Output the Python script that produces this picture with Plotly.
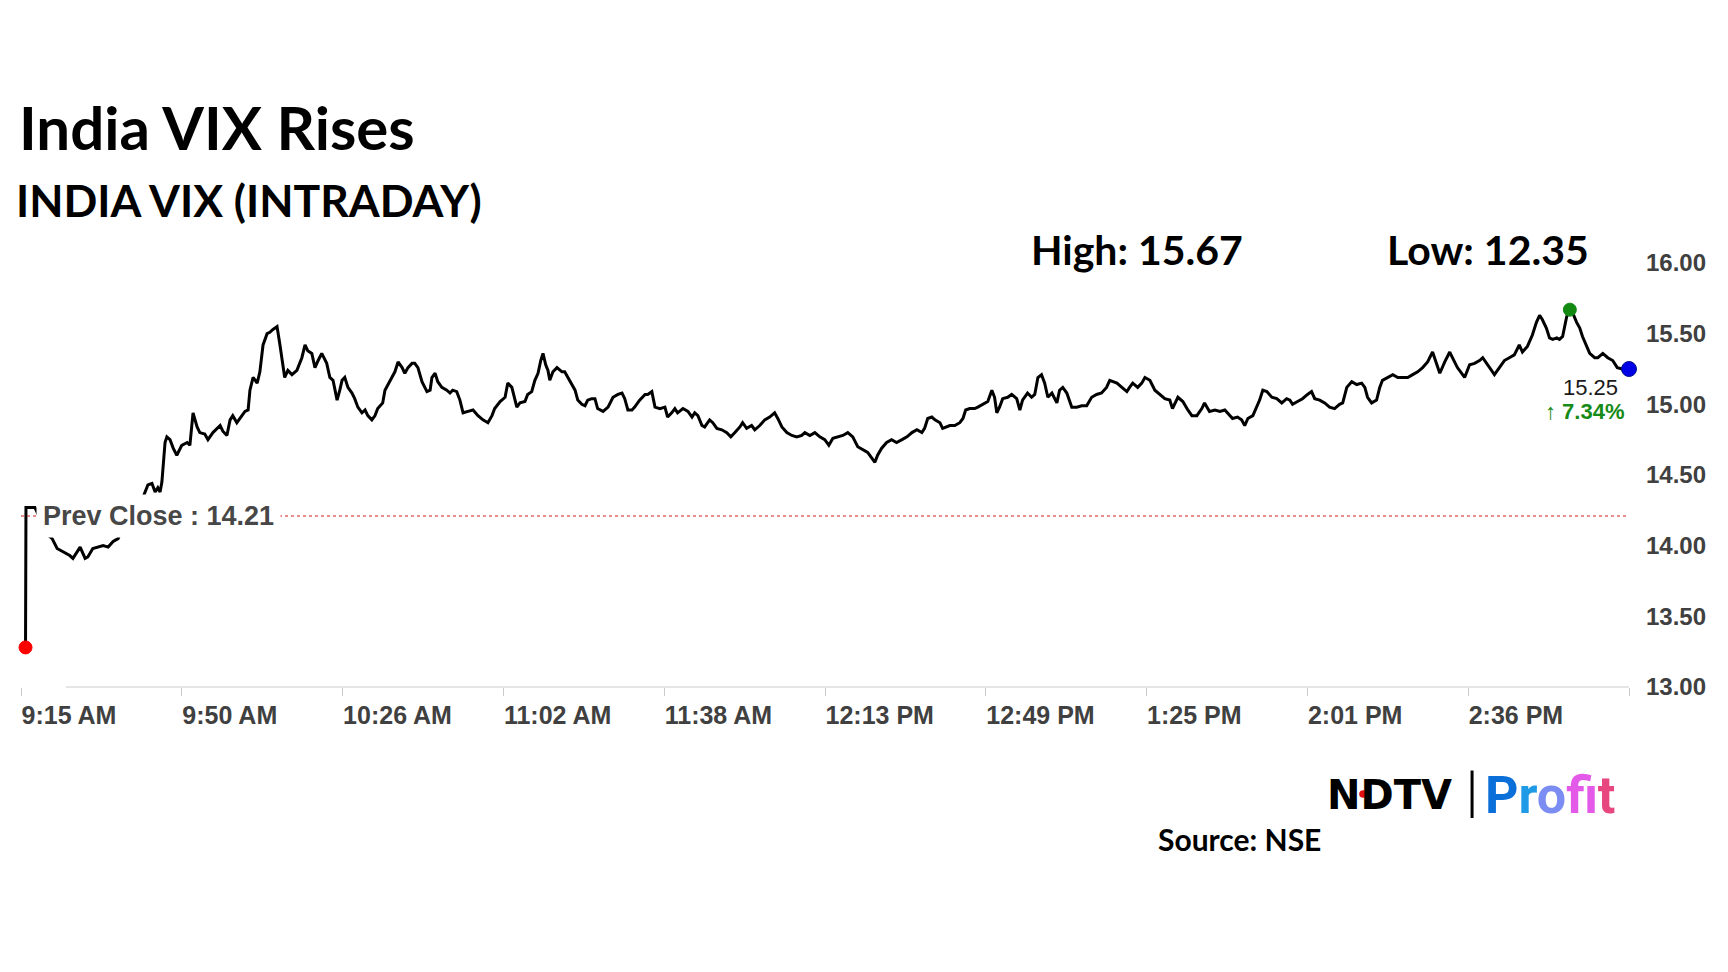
import plotly.graph_objects as go

# ---------------- data ----------------
title_text = "India VIX Rises"
subtitle_text = "INDIA VIX (INTRADAY)"
day_high = 15.67
day_low = 12.35
prev_close = 14.21
last_value_label = "15.25"
change_label = "7.34%"
source_text = "Source: NSE"

# minutes after 9:15 AM
minutes_after_open = [
    1.0, 1.1, 1.3, 3.1, 5.8, 6.9, 8.0, 9.1, 10.8, 11.5, 13.1, 14.2, 14.8, 15.9, 16.8,
    18.2, 19.3, 20.4, 21.5, 21.9, 27.0, 28.1, 29.0, 29.7, 30.3, 30.8, 31.2, 31.9, 32.3,
    33.0, 33.7, 34.5, 35.6, 36.8, 37.4, 38.1, 39.0, 39.6, 40.7, 41.4, 42.5, 44.1, 44.7,
    45.6, 46.3, 46.9, 47.8, 48.5, 49.6, 50.3, 50.7, 51.4, 52.3, 52.9, 53.6, 54.5, 55.1,
    55.8, 56.7, 57.3, 58.0, 58.4, 59.1, 60.0, 61.1, 62.2, 62.9, 63.5, 64.4, 65.1, 65.8,
    66.6, 67.7,
    68.4, 69.1, 70.0, 70.6, 71.1, 71.7, 72.4, 73.3, 73.9, 74.6, 75.5, 76.2, 76.8, 77.7,
    78.4, 79.0, 80.1, 80.6, 81.3, 82.1, 82.8, 83.5, 84.4, 85.0, 85.7, 86.6, 87.2, 87.9,
    88.8, 89.9, 90.6, 91.0, 91.7, 92.3, 93.2, 94.3, 95.0, 95.6, 96.5, 97.2, 97.9, 99.0,
    100.1, 101.2, 102.3, 103.4, 104.3, 104.9, 106.1, 107.2, 107.8, 108.7, 109.4, 109.8,
    110.5, 111.6, 112.2, 113.1, 113.8, 114.5, 115.1, 115.6, 116.2, 116.7, 117.1, 117.8,
    118.7, 119.8, 120.4, 121.1, 122.0, 122.7, 123.3, 124.2, 124.9, 125.5, 126.4, 127.1,
    127.7, 128.9, 130.0, 131.1, 132.2, 133.1, 133.7, 134.4, 135.3, 135.9, 137.0, 138.2,
    138.8, 139.7, 140.4,
    141.5, 142.6, 143.2, 144.1, 144.8, 145.4, 146.6, 147.7, 148.6, 149.2, 149.9, 150.8,
    151.4, 152.5, 153.2, 154.1, 155.2, 156.3, 157.2, 158.1, 159.2, 159.8, 160.7, 161.8,
    162.5, 163.6, 164.7, 165.8, 166.9, 167.6, 168.5, 169.6, 170.7, 171.8, 172.9, 173.6,
    174.7, 175.8, 176.9, 178.0, 178.9, 179.8, 180.9, 182.0, 183.1, 184.2, 185.3, 186.4,
    187.5, 189.1, 189.7, 190.6, 191.7, 192.8, 193.9, 195.1, 196.2, 197.3, 198.4, 199.5,
    200.1, 200.8, 201.7, 202.4, 203.5, 204.1, 205.0, 205.7, 206.8, 207.9, 208.6, 209.2,
    210.1, 211.2, 211.9, 213.0, 214.1, 215.0, 215.6, 216.1,
    216.7, 217.4, 218.5, 219.4, 220.5, 221.2, 221.8, 222.9, 223.8, 224.5, 225.2, 226.0,
    226.7, 227.4, 228.3, 229.4, 230.0, 230.7, 231.6, 232.7, 233.8, 234.9, 236.0, 237.1,
    238.2, 239.3, 240.4, 241.1, 241.8, 242.7, 243.8, 244.9, 245.5, 246.2, 247.3, 248.2,
    248.9, 250.0, 251.1, 252.2, 253.3, 254.4, 255.0, 256.2, 257.3, 258.4, 259.3, 260.4,
    261.5, 262.1, 263.2, 264.4, 265.5, 266.6, 267.7, 268.3, 269.4, 270.3, 271.0, 271.7,
    272.8, 273.6, 274.3, 275.0, 275.9, 277.0, 278.1, 279.2, 280.3, 281.0, 281.6, 282.7,
    283.8, 284.9, 285.8, 286.5,
    287.6, 288.7, 289.8, 290.9, 292.0, 292.7, 293.6, 294.7, 295.8, 296.9, 297.6, 298.2,
    299.1, 300.2, 300.9, 301.5, 302.6, 303.8, 304.9, 306.0, 307.1, 308.2, 309.3, 310.4,
    311.5, 312.6, 313.5, 314.2, 315.3, 316.4, 317.0, 318.1, 319.7, 320.8, 321.9, 323.0,
    323.7, 324.8, 326.3, 327.4, 328.5, 329.6, 330.7, 331.8, 332.5, 333.6, 334.7, 335.6,
    336.3, 336.9, 337.8, 338.5, 339.2, 340.1, 340.7, 341.4, 342.3, 343.0, 343.6, 344.5,
    345.2, 345.8, 346.7, 347.4, 348.5, 349.2, 350.3, 351.4, 352.5, 353.5, 354.6, 356.1,
]

vix_values = [
    13.28, 14.27, 14.27, 14.27, 14.08, 14.05, 13.98, 13.96, 13.93, 13.91, 13.99, 13.91, 13.92, 13.98, 13.99,
    14.00, 13.99, 14.03, 14.05, 14.08, 14.34, 14.43, 14.44, 14.38, 14.41, 14.38, 14.45, 14.73, 14.77,
    14.75, 14.69, 14.64, 14.71, 14.73, 14.71, 14.94, 14.84, 14.80, 14.79, 14.75, 14.80, 14.85, 14.81,
    14.78, 14.89, 14.92, 14.87, 14.90, 14.95, 14.96, 15.10, 15.19, 15.15, 15.23, 15.42, 15.50, 15.51,
    15.53, 15.55, 15.43, 15.26, 15.19, 15.24, 15.21, 15.24, 15.33, 15.42, 15.38, 15.36, 15.26, 15.31,
    15.36, 15.29,
    15.19, 15.17, 15.03, 15.10, 15.17, 15.19, 15.12, 15.08, 15.04, 14.98, 14.94, 14.96, 14.92, 14.89,
    14.92, 14.97, 15.01, 15.10, 15.14, 15.19, 15.23, 15.30, 15.26, 15.22, 15.26, 15.29, 15.29, 15.26,
    15.16, 15.09, 15.10, 15.19, 15.22, 15.16, 15.12, 15.10, 15.08, 15.10, 15.09, 15.03, 14.94, 14.95,
    14.96, 14.92, 14.89, 14.87, 14.92, 14.97, 15.02, 15.05, 15.15, 15.12, 15.03, 14.98,
    15.01, 15.02, 15.07, 15.09, 15.17, 15.22, 15.31, 15.36, 15.28, 15.24, 15.17, 15.23,
    15.26, 15.23, 15.23, 15.19, 15.14, 15.10, 15.03, 15.00, 14.99, 15.03, 15.04, 15.04,
    14.97, 14.95, 14.98, 15.05, 15.07, 15.08, 15.04, 14.96, 14.96, 14.98, 15.03, 15.07,
    15.07, 15.09, 14.98,
    14.97, 14.98, 14.91, 14.94, 14.97, 14.94, 14.97, 14.95, 14.91, 14.94, 14.92, 14.85,
    14.84, 14.89, 14.87, 14.83, 14.82, 14.80, 14.77, 14.80, 14.84, 14.87, 14.83, 14.85,
    14.82, 14.85, 14.89, 14.91, 14.94, 14.90, 14.84, 14.80, 14.78, 14.77, 14.78, 14.80,
    14.78, 14.80, 14.77, 14.75, 14.71, 14.76, 14.77, 14.78, 14.80, 14.77, 14.70, 14.68,
    14.66, 14.59, 14.64, 14.69, 14.73, 14.75, 14.73, 14.75, 14.77, 14.80, 14.82, 14.80,
    14.83, 14.90, 14.91, 14.89, 14.87, 14.83, 14.84, 14.85, 14.85, 14.87, 14.90, 14.96,
    14.97, 14.97, 14.98, 15.00, 15.02, 15.10, 15.05, 14.94,
    14.98, 15.04, 15.05, 15.07, 15.04, 14.96, 15.03, 15.08, 15.05, 15.07, 15.19, 15.21,
    15.15, 15.05, 15.08, 15.01, 15.10, 15.12, 15.08, 14.98, 14.98, 14.99, 14.99, 15.05,
    15.07, 15.08, 15.12, 15.17, 15.16, 15.15, 15.12, 15.09, 15.12, 15.15, 15.12, 15.15,
    15.19, 15.17, 15.10, 15.07, 15.04, 15.03, 14.97, 15.05, 15.02, 14.96, 14.92, 14.92,
    14.97, 15.01, 14.95, 14.96, 14.95, 14.96, 14.92, 14.90, 14.91, 14.89, 14.85, 14.90,
    14.92, 14.98, 15.03, 15.10, 15.09, 15.05, 15.04, 15.01, 15.04, 15.03, 15.00, 15.02,
    15.04, 15.07, 15.09, 15.04,
    15.03, 15.01, 14.98, 14.97, 15.00, 15.01, 15.12, 15.16, 15.14, 15.15, 15.12, 15.05,
    15.01, 15.03, 15.12, 15.17, 15.19, 15.21, 15.19, 15.19, 15.19, 15.21, 15.23, 15.26,
    15.30, 15.37, 15.28, 15.22, 15.30, 15.37, 15.33, 15.26, 15.19, 15.28, 15.29, 15.31,
    15.33, 15.28, 15.21, 15.26, 15.31, 15.33, 15.35, 15.42, 15.37, 15.41, 15.49, 15.58,
    15.63, 15.60, 15.54, 15.47, 15.46, 15.47, 15.46, 15.48, 15.62, 15.67, 15.65, 15.58,
    15.54, 15.48, 15.41, 15.36, 15.33, 15.33, 15.36, 15.33, 15.31, 15.26, 15.25, 15.25,
]

x_tick_labels = ["9:15 AM", "9:50 AM", "10:26 AM", "11:02 AM", "11:38 AM",
                 "12:13 PM", "12:49 PM", "1:25 PM", "2:01 PM", "2:36 PM"]
y_tick_values = [13.0, 13.5, 14.0, 14.5, 15.0, 15.5, 16.0]
session_end_minute = 356.1
n_intervals = 10

# ---------------- figure ----------------
# the page adds an 8px body margin, so the figure is 8px smaller each way
W, H = 1720, 964
L, R, T, B = 13, 99, 255, 285

all_tick_vals = [session_end_minute * i / n_intervals for i in range(n_intervals + 1)]
x_tick_vals = all_tick_vals[:len(x_tick_labels)]

i_high = max(range(len(vix_values)), key=lambda i: vix_values[i])

fig = go.Figure()

fig.add_trace(go.Scatter(
    x=minutes_after_open, y=vix_values, mode="lines",
    line=dict(color="black", width=3), hoverinfo="skip", showlegend=False,
))

fig.add_trace(go.Scatter(
    x=[minutes_after_open[0], minutes_after_open[i_high], minutes_after_open[-1]],
    y=[vix_values[0], vix_values[i_high], vix_values[-1]],
    mode="markers", opacity=1,
    marker=dict(color=["#ff0000", "#128a12", "#0000e6"], size=[13, 13, 15], opacity=1,
                line=dict(color=["#ff0000", "#128a12", "#00108a"], width=1)),
    cliponaxis=False, hoverinfo="skip", showlegend=False,
))

# previous close dotted line
fig.add_shape(type="line", xref="paper", x0=0, x1=1, yref="y", y0=prev_close, y1=prev_close,
              line=dict(color="#d11a1a", width=1.2, dash="dot"))

# x baseline
fig.add_shape(type="line", xref="paper", x0=0.028, x1=1, yref="paper", y0=0, y1=0,
              line=dict(color="#dddddd", width=1.5))

# divider in logo
fig.add_shape(type="line", xref="paper", x0=0.9024, x1=0.9024, yref="paper",
              y0=-0.197, y1=-0.309, line=dict(color="black", width=3))
# red dot of NDTV logo
fig.add_shape(type="circle", xref="paper", yref="paper",
              x0=0.8322, x1=0.8372, y0=-0.2434, y1=-0.2614,
              fillcolor="#e01010", line=dict(width=0))

ann = []
ann.append(dict(text=f"<b>{title_text}</b>", xref="paper", yref="paper", x=-0.0022, y=1.3208,
                xanchor="left", yanchor="middle", showarrow=False,
                font=dict(family="Lato", size=60, color="black")))
ann.append(dict(text=f"<b>{subtitle_text}</b>", xref="paper", yref="paper", x=-0.0045, y=1.1486,
                xanchor="left", yanchor="middle", showarrow=False,
                font=dict(family="Lato", size=44.5, color="black")))
ann.append(dict(text=f"<b>High: {day_high:.2f}</b>", xref="paper", yref="paper", x=0.627, y=1.0318,
                xanchor="left", yanchor="middle", showarrow=False,
                font=dict(family="Lato", size=41, color="black")))
ann.append(dict(text=f"<b>Low: {day_low:.2f}</b>", xref="paper", yref="paper", x=0.8484, y=1.0318,
                xanchor="left", yanchor="middle", showarrow=False,
                font=dict(family="Lato", size=41, color="black")))
ann.append(dict(text=f"<b>Prev Close : {prev_close:.2f}</b>", xref="x", yref="y",
                x=3.4, y=prev_close, xanchor="left", yanchor="middle", showarrow=False,
                bgcolor="white", borderpad=6,
                font=dict(family="Liberation Sans", size=27, color="#474747")))
ann.append(dict(text=last_value_label, xref="paper", yref="paper", x=0.9945, y=0.7075,
                xanchor="right", yanchor="middle", showarrow=False,
                font=dict(family="Liberation Sans", size=22, color="#1a1a1a")))
ann.append(dict(text=f"<b>\u2191 {change_label}</b>", xref="paper", yref="paper", x=0.9990, y=0.6486,
                xanchor="right", yanchor="middle", showarrow=False,
                font=dict(family="Liberation Sans", size=22, color="#168a16")))
ann.append(dict(text="<b>NDTV</b>", xref="paper", yref="paper", x=0.8110, y=-0.2547,
                xanchor="left", yanchor="middle", showarrow=False,
                font=dict(family="DejaVu Sans", size=40, color="black")))
profit_colors = ["#0a6fd8", "#1e9ae6", "#7b8cf2", "#e35ae8", "#f050cf", "#e8467f"]
profit_html = "".join(f"<span style='color:{c}'>{ch}</span>" for ch, c in zip("Profit", profit_colors))
ann.append(dict(text=f"<b>{profit_html}</b>", xref="paper", yref="paper", x=0.9090, y=-0.255,
                xanchor="left", yanchor="middle", showarrow=False,
                font=dict(family="Roboto", size=52, color="#0a6fd8", weight=900)))
ann.append(dict(text=f"<b>{source_text}</b>", xref="paper", yref="paper", x=0.7576, y=-0.3585,
                xanchor="center", yanchor="middle", showarrow=False,
                font=dict(family="Lato", size=30, color="black")))

fig.update_layout(
    width=W, height=H,
    margin=dict(l=L, r=R, t=T, b=B),
    paper_bgcolor="white", plot_bgcolor="white",
    showlegend=False,
    annotations=ann,
    xaxis=dict(
        range=[0, session_end_minute],
        tickvals=x_tick_vals, ticktext=x_tick_labels,
        ticks="outside", ticklen=8, tickcolor="#cccccc", tickwidth=1,
        minor=dict(tickvals=all_tick_vals, ticks="outside", ticklen=8,
                   tickcolor="#cccccc", tickwidth=1, showgrid=False),
        ticklabelposition="outside right",
        ticklabelstandoff=6,
        showgrid=False, zeroline=False, showline=False,
        tickfont=dict(family="Liberation Sans", size=25, color="#404040", weight="bold"),
        fixedrange=True,
    ),
    yaxis=dict(
        range=[13, 16], side="right",
        tickvals=y_tick_values, ticktext=[f"{v:.2f}" for v in y_tick_values],
        ticks="", showgrid=False, zeroline=False, showline=False,
        ticklabelstandoff=16,
        tickfont=dict(family="Liberation Sans", size=24, color="#404040", weight="bold"),
        fixedrange=True,
    ),
)

fig.write_html("out.html")
